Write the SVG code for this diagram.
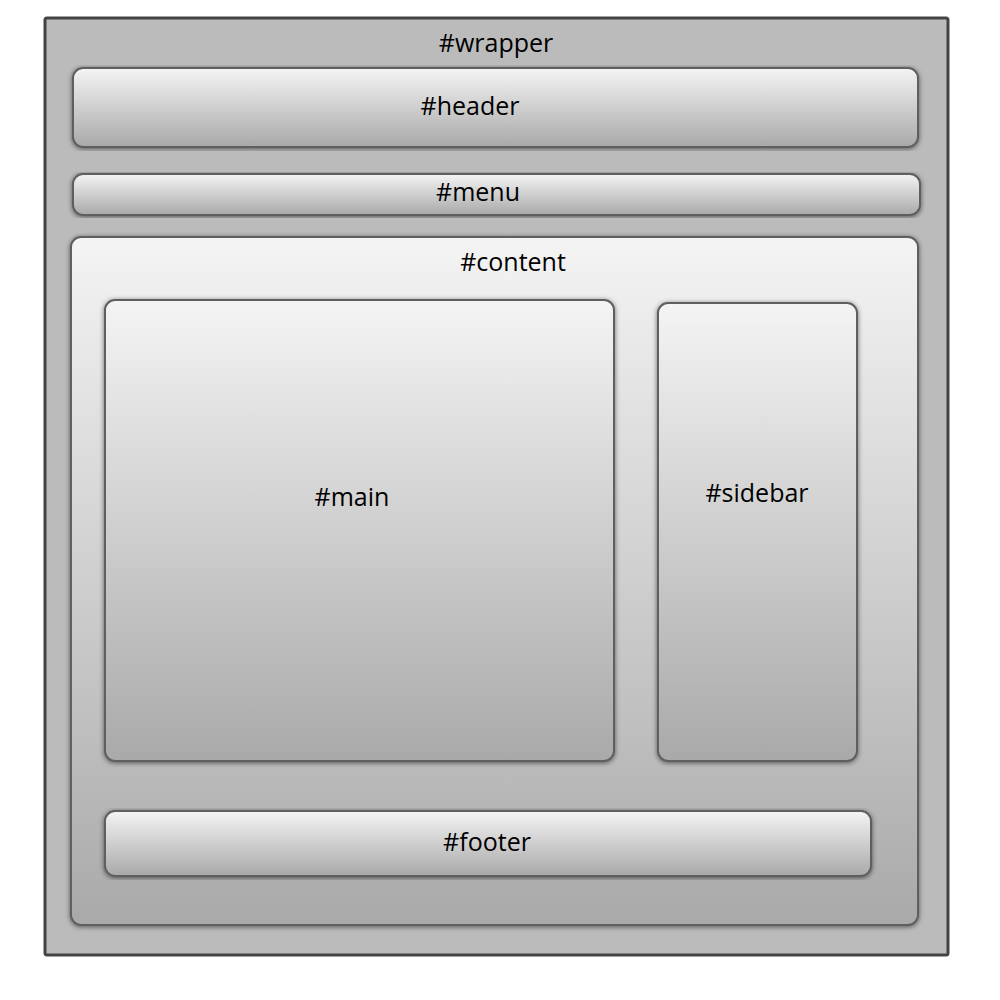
<svg xmlns="http://www.w3.org/2000/svg" width="1000" height="1000" viewBox="0 0 1000 1000">
<style>
.box{fill:url(#g);stroke:#5e5e5e;stroke-width:2;filter:url(#sh)}
.lbl{font-family:"Open Sans","Liberation Sans",sans-serif;font-size:25px;fill:#000;text-anchor:middle}
</style>
<defs>
<linearGradient id="g" x1="0" y1="0" x2="0" y2="1">
<stop offset="0" stop-color="#f4f4f4"/>
<stop offset="1" stop-color="#a9a9a9"/>
</linearGradient>
<filter id="sh" x="-5%" y="-5%" width="110%" height="110%">
<feGaussianBlur in="SourceAlpha" stdDeviation="2.5"/>
<feOffset dx="0" dy="1" result="b"/>
<feFlood flood-color="#000" flood-opacity="0.55"/>
<feComposite in2="b" operator="in"/>
<feMerge><feMergeNode/><feMergeNode in="SourceGraphic"/></feMerge>
</filter>
</defs>
<rect width="1000" height="1000" fill="#fff"/>
<g id="wrapper">
<rect x="45" y="18" width="903" height="937" rx="2" fill="#bbbbbb" stroke="#444" stroke-width="3"/>
<text class="lbl" x="496" y="52">#wrapper</text>
</g>
<g id="header">
<rect class="box" x="73" y="68" width="845" height="79" rx="10"/>
<text class="lbl" x="470" y="115">#header</text>
</g>
<g id="menu">
<rect class="box" x="73" y="174" width="847" height="41" rx="10"/>
<text class="lbl" x="478" y="201">#menu</text>
</g>
<g id="content">
<rect class="box" x="71" y="237" width="847" height="688" rx="10"/>
<text class="lbl" x="513" y="271">#content</text>
</g>
<g id="main">
<rect class="box" x="105" y="300" width="509" height="461" rx="10"/>
<text class="lbl" x="352" y="506">#main</text>
</g>
<g id="sidebar">
<rect class="box" x="658" y="303" width="199" height="458" rx="10"/>
<text class="lbl" x="757" y="502">#sidebar</text>
</g>
<g id="footer">
<rect class="box" x="105" y="811" width="766" height="65" rx="10"/>
<text class="lbl" x="487" y="851">#footer</text>
</g>
<g id="connectors"/>
</svg>
